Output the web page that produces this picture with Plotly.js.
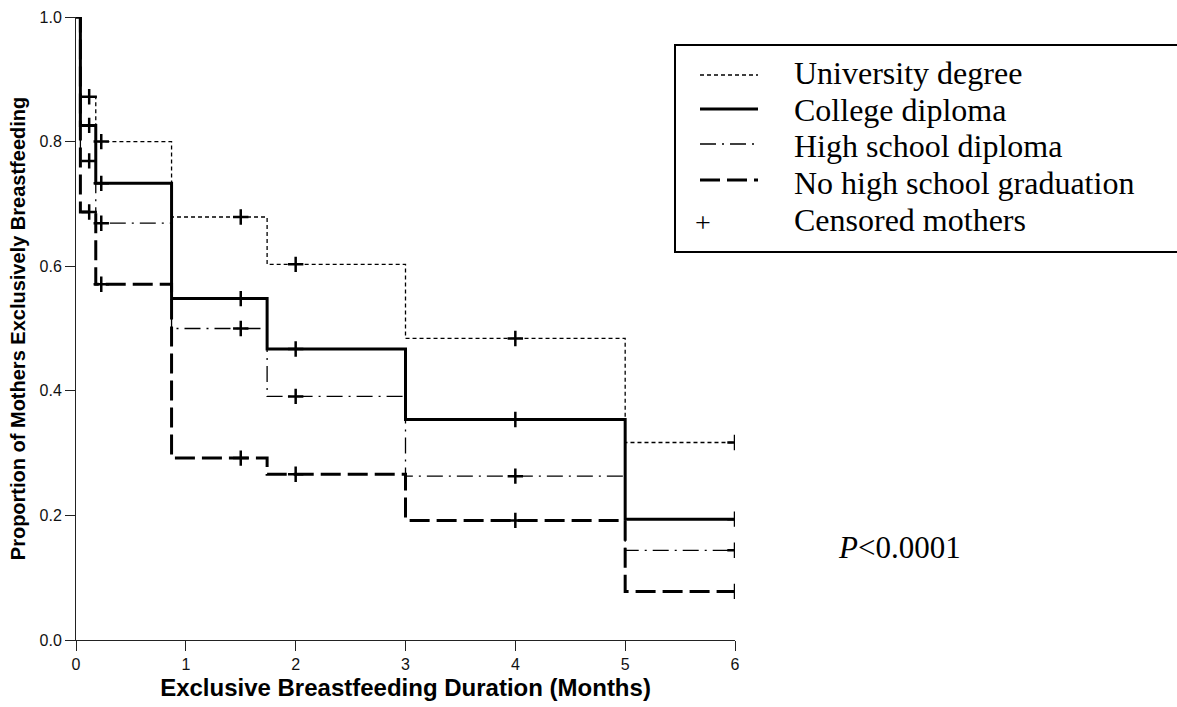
<!DOCTYPE html>
<html><head><meta charset="utf-8">
<script src="https://cdn.plot.ly/plotly-3.0.1.min.js"></script>
<style>html,body{margin:0;padding:0;background:#fff}</style>
</head><body><div id="chart" style="width:1177px;height:707px"></div>
<script>
// ---- data ----
const stepTimes    = [0, 0.04, 0.18, 0.87, 1.74, 3, 5, 6];
const university   = [1, 0.872, 0.800, 0.679, 0.603, 0.484, 0.317, 0.317];
const college      = [1, 0.826, 0.733, 0.548, 0.467, 0.354, 0.194, 0.194];
const highSchool   = [1, 0.769, 0.669, 0.500, 0.391, 0.263, 0.144, 0.144];
const noHighSchool = [1, 0.687, 0.571, 0.292, 0.266, 0.192, 0.078, 0.078];
const censorTimes  = [0.12, 0.23, 1.5, 2, 4, 6];
const seriesNames  = ['University degree', 'College diploma', 'High school diploma', 'No high school graduation'];
const censorLabel  = 'Censored mothers';
const xTickVals    = [0, 1, 2, 3, 4, 5, 6];
const yTickVals    = [0, 0.2, 0.4, 0.6, 0.8, 1.0];
const pText        = '<i>P</i>&lt;0.0001';

// ---- styles ----
const W = 1177, H = 707;
const M = {l: 76, r: 442, t: 17, b: 67};
const PW = W - M.l - M.r, PH = H - M.t - M.b;
const px = x => (x - M.l) / PW;
const py = y => (H - M.b - y) / PH;

const styles = [
  {dash: '4px,3px', width: 1.3},
  {dash: 'solid', width: 3},
  {dash: '16px,6px,2px,6px', width: 1.3},
  {dash: '20px,7px', width: 3}
];
const allValues = [university, college, highSchool, noHighSchool];

function valueAt(vals, t) {
  let v = vals[0];
  for (let i = 0; i < stepTimes.length; i++) if (stepTimes[i] <= t) v = vals[i];
  return v;
}

const traces = [];
allValues.forEach((vals, i) => {
  traces.push({
    type: 'scatter', mode: 'lines', x: stepTimes, y: vals, name: seriesNames[i],
    line: {shape: 'hv', color: '#000', width: styles[i].width, dash: styles[i].dash},
    showlegend: false, cliponaxis: false, hoverinfo: 'skip'
  });
});
allValues.forEach((vals, i) => {
  traces.push({
    type: 'scatter', mode: 'markers', x: censorTimes, y: censorTimes.map(t => valueAt(vals, t)),
    name: censorLabel,
    marker: {symbol: 'cross-thin', size: 11, line: {width: 2.5, color: '#000'}, color: '#000'},
    showlegend: false, cliponaxis: true, hoverinfo: 'skip'
  });
});

// manual legend (box, samples, labels)
const rowY = [73, 110, 146, 183, 220];
const sampleY = [75, 109, 144, 180];
const shapes = [
  {type: 'rect', xref: 'paper', yref: 'paper', x0: px(675), x1: px(1190), y0: py(252), y1: py(45),
   line: {color: '#000', width: 2}, fillcolor: 'rgba(0,0,0,0)'}
];
styles.forEach((s, i) => {
  shapes.push({type: 'line', xref: 'paper', yref: 'paper', x0: px(700), x1: px(758),
    y0: py(sampleY[i]), y1: py(sampleY[i]), line: {color: '#000', width: s.width, dash: s.dash}});
});
const serif = {family: 'Liberation Serif, Times New Roman, serif', size: 32, color: '#000'};
const annotations = [];
seriesNames.concat([censorLabel]).forEach((n, i) => {
  annotations.push({xref: 'paper', yref: 'paper', x: px(792), y: py(rowY[i]), xanchor: 'left', yanchor: 'middle',
    text: n, showarrow: false, font: serif});
});
annotations.push({xref: 'paper', yref: 'paper', x: px(703), y: py(222), xanchor: 'center', yanchor: 'middle',
  text: '+', showarrow: false, font: {family: 'Liberation Serif, Times New Roman, serif', size: 28, color: '#000'}});
annotations.push({xref: 'paper', yref: 'paper', x: px(836), y: py(547), xanchor: 'left', yanchor: 'middle',
  text: pText, showarrow: false, font: {family: 'Liberation Serif, Times New Roman, serif', size: 31, color: '#000'}});

const sans = 'Liberation Sans, Arial, sans-serif';
const axisCommon = {
  showline: true, linecolor: '#222', linewidth: 1, ticks: 'outside', ticklen: 10, tickwidth: 1, tickcolor: '#222',
  showgrid: false, zeroline: false, tickfont: {family: sans, size: 16, color: '#111'}, fixedrange: true
};
const layout = {
  width: W, height: H, margin: M, paper_bgcolor: '#fff', plot_bgcolor: '#fff', showlegend: false,
  xaxis: Object.assign({}, axisCommon, {range: [0, 6], tickvals: xTickVals, ticktext: xTickVals.map(String),
    title: {text: '<b>Exclusive Breastfeeding Duration (Months)</b>', font: {family: sans, size: 24, color: '#000'}, standoff: 6}}),
  yaxis: Object.assign({}, axisCommon, {range: [0, 1], tickvals: yTickVals, ticktext: yTickVals.map(v => v.toFixed(1)),
    title: {text: '<b>Proportion of Mothers Exclusively Breastfeeding</b>', font: {family: sans, size: 20, color: '#000'}, standoff: 8}}),
  shapes: shapes, annotations: annotations
};
Plotly.newPlot('chart', traces, layout, {staticPlot: true, displayModeBar: false});
</script></body></html>
